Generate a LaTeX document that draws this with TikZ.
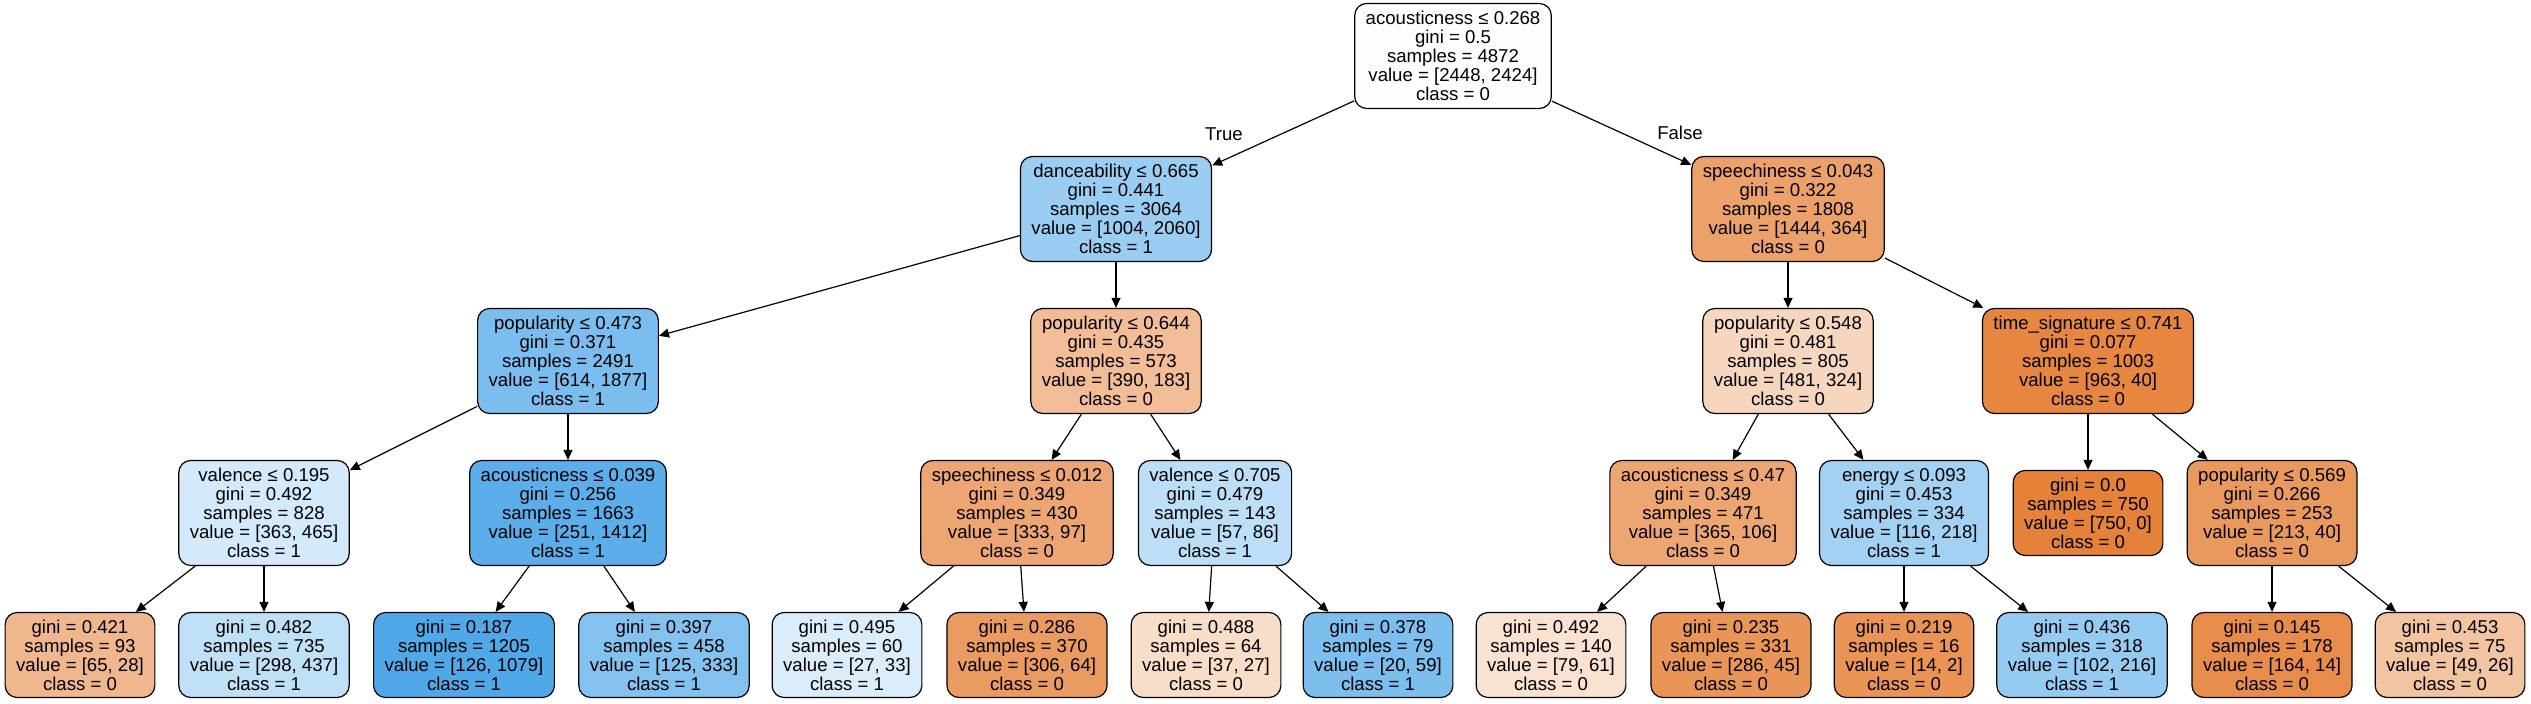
\documentclass[tikz,border=0pt]{standalone}
\usepackage{fontspec}
\setmainfont{Liberation Sans}
\usetikzlibrary{arrows.meta}

% node fills (class 0 orange, class 1 blue)
\definecolor{froot}{RGB}{255,254,253}
\definecolor{fdance}{RGB}{154,205,242}
\definecolor{fspeechA}{RGB}{236,161,107}
\definecolor{fpopA}{RGB}{122,189,238}
\definecolor{fpopB}{RGB}{241,188,150}
\definecolor{fpopC}{RGB}{246,214,190}
\definecolor{ftime}{RGB}{230,134,65}
\definecolor{fvalA}{RGB}{212,233,249}
\definecolor{facouA}{RGB}{92,174,234}
\definecolor{fspeechB}{RGB}{237,166,115}
\definecolor{fvalB}{RGB}{188,222,246}
\definecolor{facouB}{RGB}{237,166,114}
\definecolor{fenergy}{RGB}{162,209,243}
\definecolor{fpure}{RGB}{229,129,57}
\definecolor{fpopD}{RGB}{234,153,94}
\definecolor{fl421}{RGB}{240,183,142}
\definecolor{fl482}{RGB}{192,224,247}
\definecolor{fl187}{RGB}{80,168,232}
\definecolor{fl397}{RGB}{131,194,239}
\definecolor{fl495}{RGB}{219,237,250}
\definecolor{fl286}{RGB}{234,155,98}
\definecolor{fl488}{RGB}{248,221,201}
\definecolor{fl378}{RGB}{124,190,238}
\definecolor{fl492}{RGB}{249,226,210}
\definecolor{fl235}{RGB}{233,149,88}
\definecolor{fl219}{RGB}{233,147,85}
\definecolor{fl436}{RGB}{150,203,241}
\definecolor{fl145}{RGB}{231,140,74}
\definecolor{fl453}{RGB}{243,196,162}

\tikzset{
  box/.style={draw, rounded corners=6pt, align=center, inner xsep=5.5pt, inner ysep=1pt,
    line width=0.6pt, font=\fontsize{9.3}{9.5}\selectfont},
  split/.style={box, minimum height=52.5pt},
  leaf/.style={box, minimum height=42.5pt},
  edge/.style={-{Triangle[length=5pt,width=4.5pt]}, line width=0.6pt},
  lbl/.style={font=\fontsize{9.3}{9.5}\selectfont, inner sep=0pt},
}

\begin{document}
\begin{tikzpicture}[x=0.5pt,y=-0.5pt]
    \useasboundingbox (0,0) rectangle (2531,704);
    % depth 0
    \node[split, fill=froot] (root) at (1453,56) {acousticness ≤ 0.268\\gini = 0.5\\samples = 4872\\value = [2448, 2424]\\class = 0};
    % depth 1
    \node[split, fill=fdance] (dance) at (1116,209) {danceability ≤ 0.665\\gini = 0.441\\samples = 3064\\value = [1004, 2060]\\class = 1};
    \node[split, fill=fspeechA] (speechA) at (1788,209) {speechiness ≤ 0.043\\gini = 0.322\\samples = 1808\\value = [1444, 364]\\class = 0};
    % depth 2
    \node[split, fill=fpopA] (popA) at (568,361) {popularity ≤ 0.473\\gini = 0.371\\samples = 2491\\value = [614, 1877]\\class = 1};
    \node[split, fill=fpopB] (popB) at (1116,361) {popularity ≤ 0.644\\gini = 0.435\\samples = 573\\value = [390, 183]\\class = 0};
    \node[split, fill=fpopC] (popC) at (1788,361) {popularity ≤ 0.548\\gini = 0.481\\samples = 805\\value = [481, 324]\\class = 0};
    \node[split, fill=ftime] (time) at (2088,361) {time\_signature ≤ 0.741\\gini = 0.077\\samples = 1003\\value = [963, 40]\\class = 0};
    % depth 3
    \node[split, fill=fvalA] (valA) at (264,513) {valence ≤ 0.195\\gini = 0.492\\samples = 828\\value = [363, 465]\\class = 1};
    \node[split, fill=facouA] (acouA) at (568,513) {acousticness ≤ 0.039\\gini = 0.256\\samples = 1663\\value = [251, 1412]\\class = 1};
    \node[split, fill=fspeechB] (speechB) at (1017,513) {speechiness ≤ 0.012\\gini = 0.349\\samples = 430\\value = [333, 97]\\class = 0};
    \node[split, fill=fvalB] (valB) at (1215,513) {valence ≤ 0.705\\gini = 0.479\\samples = 143\\value = [57, 86]\\class = 1};
    \node[split, fill=facouB] (acouB) at (1703,513) {acousticness ≤ 0.47\\gini = 0.349\\samples = 471\\value = [365, 106]\\class = 0};
    \node[split, fill=fenergy] (energy) at (1904,513) {energy ≤ 0.093\\gini = 0.453\\samples = 334\\value = [116, 218]\\class = 1};
    \node[leaf, fill=fpure] (pure) at (2088,513) {gini = 0.0\\samples = 750\\value = [750, 0]\\class = 0};
    \node[split, fill=fpopD] (popD) at (2272,513) {popularity ≤ 0.569\\gini = 0.266\\samples = 253\\value = [213, 40]\\class = 0};
    % depth 4
    \node[leaf, fill=fl421] (l421) at (80,655) {gini = 0.421\\samples = 93\\value = [65, 28]\\class = 0};
    \node[leaf, fill=fl482] (l482) at (264,655) {gini = 0.482\\samples = 735\\value = [298, 437]\\class = 1};
    \node[leaf, fill=fl187] (l187) at (464,655) {gini = 0.187\\samples = 1205\\value = [126, 1079]\\class = 1};
    \node[leaf, fill=fl397] (l397) at (664,655) {gini = 0.397\\samples = 458\\value = [125, 333]\\class = 1};
    \node[leaf, fill=fl495] (l495) at (847,655) {gini = 0.495\\samples = 60\\value = [27, 33]\\class = 1};
    \node[leaf, fill=fl286] (l286) at (1027,655) {gini = 0.286\\samples = 370\\value = [306, 64]\\class = 0};
    \node[leaf, fill=fl488] (l488) at (1206,655) {gini = 0.488\\samples = 64\\value = [37, 27]\\class = 0};
    \node[leaf, fill=fl378] (l378) at (1378,655) {gini = 0.378\\samples = 79\\value = [20, 59]\\class = 1};
    \node[leaf, fill=fl492] (l492) at (1551,655) {gini = 0.492\\samples = 140\\value = [79, 61]\\class = 0};
    \node[leaf, fill=fl235] (l235) at (1731,655) {gini = 0.235\\samples = 331\\value = [286, 45]\\class = 0};
    \node[leaf, fill=fl219] (l219) at (1904,655) {gini = 0.219\\samples = 16\\value = [14, 2]\\class = 0};
    \node[leaf, fill=fl436] (l436) at (2082,655) {gini = 0.436\\samples = 318\\value = [102, 216]\\class = 1};
    \node[leaf, fill=fl145] (l145) at (2272,655) {gini = 0.145\\samples = 178\\value = [164, 14]\\class = 0};
    \node[leaf, fill=fl453] (l453) at (2450,655) {gini = 0.453\\samples = 75\\value = [49, 26]\\class = 0};
    \node[lbl] (true) at (1224,134) {True};
    \node[lbl] (false) at (1680,133) {False};
    \draw [edge] (root) to (dance);
    \draw [edge] (root) to (speechA);
    \draw [edge] (dance) to (popA);
    \draw [edge] (dance) to (popB);
    \draw [edge] (speechA) to (popC);
    \draw [edge] (speechA) to (time);
    \draw [edge] (popA) to (valA);
    \draw [edge] (popA) to (acouA);
    \draw [edge] (popB) to (speechB);
    \draw [edge] (popB) to (valB);
    \draw [edge] (popC) to (acouB);
    \draw [edge] (popC) to (energy);
    \draw [edge] (time) to (pure);
    \draw [edge] (time) to (popD);
    \draw [edge] (valA) to (l421);
    \draw [edge] (valA) to (l482);
    \draw [edge] (acouA) to (l187);
    \draw [edge] (acouA) to (l397);
    \draw [edge] (speechB) to (l495);
    \draw [edge] (speechB) to (l286);
    \draw [edge] (valB) to (l488);
    \draw [edge] (valB) to (l378);
    \draw [edge] (acouB) to (l492);
    \draw [edge] (acouB) to (l235);
    \draw [edge] (energy) to (l219);
    \draw [edge] (energy) to (l436);
    \draw [edge] (popD) to (l145);
    \draw [edge] (popD) to (l453);
  \end{tikzpicture}
\end{document}
